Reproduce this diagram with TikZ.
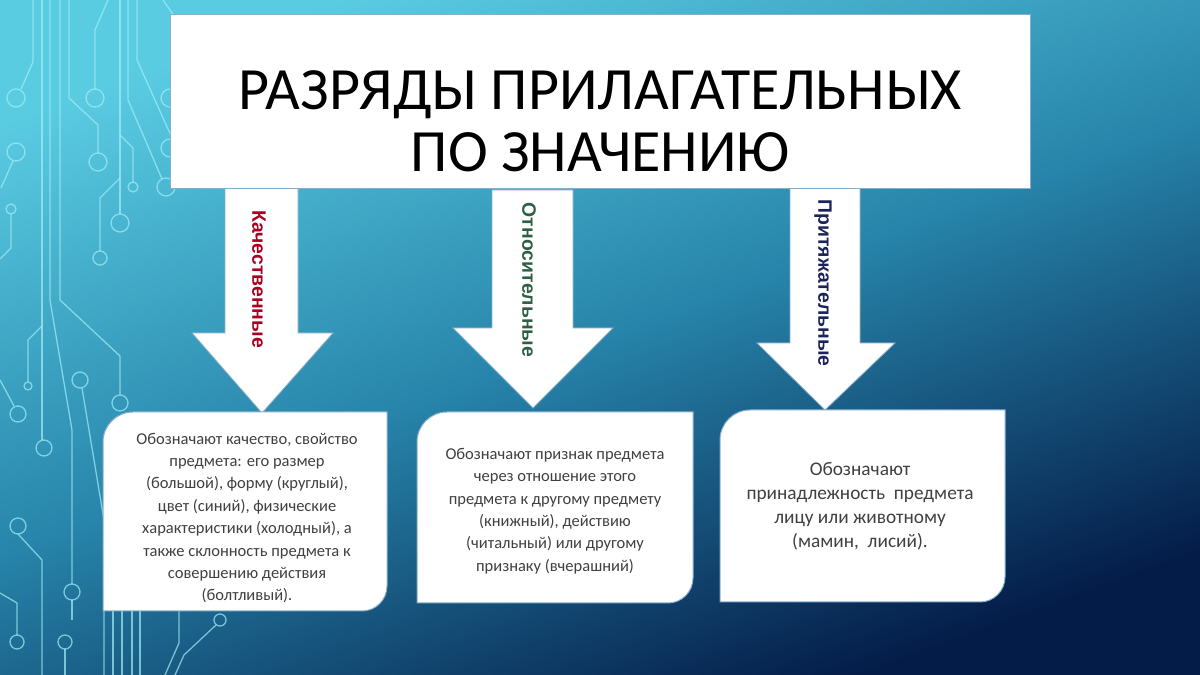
\documentclass[tikz,border=0pt]{standalone}
\usepackage{fontspec}
\setmainfont{Carlito}
\newfontfamily\arialfont{Liberation Sans}
\usetikzlibrary{positioning}
\definecolor{sky}{HTML}{5ACCE2}
\definecolor{deep}{HTML}{2784AA}
\definecolor{navy}{HTML}{041C48}
\definecolor{trace}{HTML}{A2EEF8}
\definecolor{inkgray}{HTML}{404040}
\definecolor{qualred}{HTML}{A8001E}
\definecolor{relgreen}{HTML}{2E5E45}
\definecolor{possblue}{HTML}{1B2358}
\definecolor{rim}{HTML}{86AECB}

\begin{document}
\begin{tikzpicture}[x=1pt, y=1pt,
  wire/.style={draw=trace, line width=1.3pt, opacity=.7},
  headbox/.style={rectangle, draw=rim, fill=white, minimum width=860pt, minimum height=174pt},
  pointer/.style={draw=rim, line width=.8pt, fill=white},
  tag/.style={rotate=-90, font=\arialfont\bfseries\fontsize{19.4}{21}\selectfont},
  panel/.style={draw=rim, line width=1pt, fill=white},
  blurb/.style={align=center, text=inkgray, font=\fontsize{16.5}{22.4}\selectfont}
]
  \useasboundingbox (0,0) rectangle (1200,675);

  % Background
  \shade[top color=sky, bottom color=navy, middle color=deep, shading angle=20] (0,0) rectangle (1200,675);

  % Circuit traces on the left
  \begin{scope}[shift={(0,675)}, yscale=-1]
    \draw[wire] (33,0) -- (33,62) -- (21,89);
    \draw[wire] (16,98) circle[radius=9pt];
    \draw[wire] (13,161) -- (1,188);
    \draw[wire] (16,152) circle[radius=9pt];
    \draw[wire] (11,214) -- (11,248) -- (0,259);
    \draw[wire] (11,209) circle[radius=5pt];
    \draw[wire] (42,0) -- (42,440);
    \draw[wire] (44,448) circle[radius=8pt];
    \draw[wire] (50,0) -- (50,300) -- (72,430) -- (72,584);
    \draw[wire] (72,592) circle[radius=8pt];
    \draw[wire] (60,0) -- (60,300) -- (120,356) -- (120,395);
    \draw[wire] (120,403) circle[radius=8pt];
    \draw[wire] (69,0) -- (69,98) -- (98,125) -- (98,153);
    \draw[wire] (98,162) circle[radius=9pt];
    \draw[wire] (108,0) -- (95,30) -- (95,89);
    \draw[wire] (95,98) circle[radius=9pt];
    \draw[wire] (120,0) -- (120,214);
    \draw[wire] (120,223) circle[radius=9pt];
    \draw[wire] (120,135) -- (133,148) -- (133,182);
    \draw[wire] (133,187) circle[radius=5pt];
    \draw[wire] (120,178) -- (100,198) -- (100,251);
    \draw[wire] (100,258) circle[radius=7pt];
    \draw[wire] (128,0) -- (128,100) -- (162,179);
    \draw[wire] (166,187) circle[radius=9pt];
    \draw[wire] (137,0) -- (137,60) -- (172,138);
    \draw[wire] (163,0) -- (177,20);
    \draw[wire] (170,98) circle[radius=9pt];
    \draw[wire] (170,148) circle[radius=9pt];
    \draw[wire] (28,382) -- (28,340) -- (42,326);
    \draw[wire] (28,386) circle[radius=4pt];
    \draw[wire] (14,406) -- (0,380);
    \draw[wire] (18,414) circle[radius=8pt];
    \draw[wire] (80,380) circle[radius=8pt];
    \draw[wire] (82,388) -- (104,520) -- (104,675);
    \draw[wire] (18,534) -- (42,560) -- (42,675);
    \draw[wire] (18,526) circle[radius=8pt];
    \draw[wire] (0,593) -- (17,603) -- (17,635);
    \draw[wire] (17,642) circle[radius=7pt];
    \draw[wire] (65,649) -- (65,675);
    \draw[wire] (65,642) circle[radius=7pt];
    \draw[wire] (72,600) -- (72,620);
    \draw[wire] (113,611) -- (113,675);
    \draw[wire] (122,611) -- (122,675);
    \draw[wire] (132,611) -- (132,675);
    \draw[wire] (140,611) -- (140,675);
    \draw[wire] (179,611) -- (179,643) -- (165,675);
    \draw[wire] (216,625) -- (184,655) -- (175,675);
    \draw[wire] (220,620) circle[radius=6pt];
  \end{scope}

  % Arrows
  \draw[pointer] (225,490) -- (298,490) -- (298,342) -- (333,342) -- (262,262) -- (192,342) -- (225,342) -- cycle;
  \draw[pointer] (492,485) -- (573,485) -- (573,347) -- (613,347) -- (533,267) -- (453,347) -- (492,347) -- cycle;
  \draw[pointer] (790,490) -- (860,490) -- (860,332) -- (895,332) -- (825,265) -- (757,332) -- (790,332) -- cycle;

  \node[tag, text=qualred] (qual) at (259,396) {Качественные};
  \node[tag, text=relgreen] (rel) at (529,395) {Относительные};
  \node[tag, text=possblue] (poss) at (823,392) {Притяжательные};

  % Title
  \node[headbox] (head) at (600,574) {};
  \node[font=\fontsize{60}{62}\selectfont, align=center] (headtext) at (600,554) {РАЗРЯДЫ ПРИЛАГАТЕЛЬНЫХ\\ПО ЗНАЧЕНИЮ};

  % Description panels
  \draw[panel] (103,64) -- (103,233) arc[start angle=180, end angle=90, radius=30pt] -- (387,263) -- (387,89) arc[start angle=0, end angle=-90, radius=25pt] -- cycle;
  \draw[panel] (417,72) -- (417,233) arc[start angle=180, end angle=90, radius=30pt] -- (693,263) -- (693,97) arc[start angle=0, end angle=-90, radius=25pt] -- cycle;
  \draw[panel] (720,73) -- (720,235) arc[start angle=180, end angle=90, radius=30pt] -- (1005,265) -- (1005,98) arc[start angle=0, end angle=-90, radius=25pt] -- cycle;

  \node[blurb] (qualtext) at (247,157) {Обозначают качество, свойство\\предмета: его размер\\(большой), форму (круглый),\\цвет (синий), физические\\характеристики (холодный), а\\также склонность предмета к\\совершению действия\\(болтливый).};
  \node[blurb] (reltext) at (555,164) {Обозначают признак предмета\\через отношение этого\\предмета к другому предмету\\(книжный), действию\\(читальный) или другому\\признаку (вчерашний)};
  \node[blurb, font=\fontsize{19.3}{24}\selectfont] (posstext) at (860,169) {Обозначают\\принадлежность~~предмета\\лицу или животному\\(мамин,~~лисий).};

\end{tikzpicture}
\end{document}
